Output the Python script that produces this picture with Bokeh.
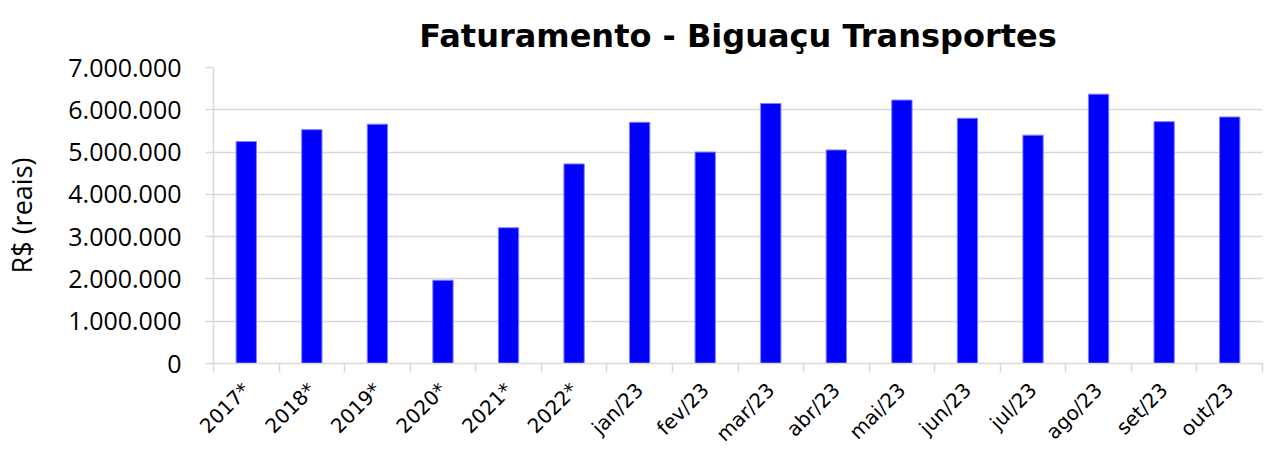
import math
from bokeh.plotting import figure
from bokeh.models import FixedTicker, Range1d, ColumnDataSource, CustomJSTickFormatter
from bokeh.embed import file_html
from bokeh.resources import INLINE

categories = ["2017*", "2018*", "2019*", "2020*", "2021*", "2022*", "jan/23", "fev/23",
              "mar/23", "abr/23", "mai/23", "jun/23", "jul/23", "ago/23", "set/23", "out/23"]
values = [5250000, 5530000, 5660000, 1970000, 3210000, 4720000, 5705000, 5000000,
          6150000, 5050000, 6230000, 5800000, 5400000, 6370000, 5720000, 5830000]
y_ticks = [0, 1000000, 2000000, 3000000, 4000000, 5000000, 6000000, 7000000]

xpos = [i + 0.5 for i in range(len(categories))]
src = ColumnDataSource(dict(x=xpos, top=values, cat=categories))

p = figure(width=1266, height=457, output_backend="svg", toolbar_location=None,
           x_range=Range1d(0, len(categories)), y_range=Range1d(0, 7000000),
           min_border_left=213, min_border_right=4, min_border_top=67, min_border_bottom=94)

p.title.text = "Faturamento - Biguaçu Transportes"
p.title.align = "center"
p.title.text_font = "DejaVu Sans"
p.title.text_font_style = "bold"
p.title.text_font_size = "32px"
p.title.text_color = "#000000"
p.title.standoff = 26

p.vbar(x="x", top="top", width=0.31, source=src, fill_color="#0000FF",
       line_color="#8080FF", line_width=1)

p.outline_line_color = None
p.xgrid.grid_line_color = None
p.ygrid.grid_line_color = "#d9d9d9"
p.ygrid.grid_line_width = 1.5
p.ygrid.ticker = FixedTicker(ticks=y_ticks)

# y axis
ya = p.yaxis[0]
ya.ticker = FixedTicker(ticks=y_ticks)
ya.formatter = CustomJSTickFormatter(code="""
    return Math.round(tick).toString().replace(/\\B(?=(\\d{3})+(?!\\d))/g, '.');
""")
ya.axis_label = "R$ (reais)"
ya.axis_label_text_font = "Open Sans"
ya.axis_label_text_font_style = "normal"
ya.axis_label_text_font_size = "27px"
ya.axis_label_text_color = "#000000"
ya.axis_label_standoff = 25
ya.major_label_text_font = "Open Sans"
ya.major_label_text_font_size = "25px"
ya.major_label_text_color = "#000000"
ya.major_label_standoff = 24
ya.axis_line_color = "#d9d9d9"
ya.axis_line_width = 1.5
ya.major_tick_line_color = "#d9d9d9"
ya.major_tick_line_width = 1.5
ya.major_tick_out = 8
ya.major_tick_in = 0
ya.minor_tick_line_color = None

# x axis: labels at category centers, ticks at category boundaries
xa = p.xaxis[0]
xa.ticker = FixedTicker(ticks=xpos, minor_ticks=list(range(len(categories) + 1)))
xa.major_label_overrides = {x: c for x, c in zip(xpos, categories)}
xa.major_label_orientation = math.pi / 4
xa.major_label_text_font = "DejaVu Sans"
xa.major_label_text_font_size = "20px"
xa.major_label_text_color = "#000000"
xa.major_label_standoff = 14
xa.major_tick_line_color = None
xa.major_tick_out = 0
xa.major_tick_in = 0
xa.minor_tick_line_color = "#d9d9d9"
xa.minor_tick_line_width = 1.5
xa.minor_tick_out = 9
xa.minor_tick_in = 0
xa.axis_line_color = "#d9d9d9"
xa.axis_line_width = 1.5

open("out.html", "w").write(file_html(p, INLINE))
